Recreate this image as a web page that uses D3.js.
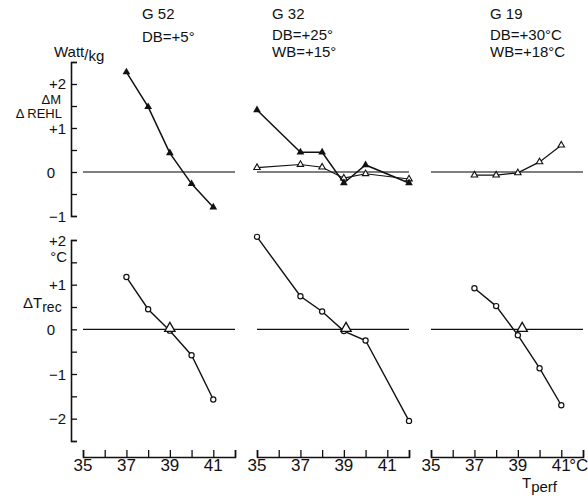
<!DOCTYPE html>
<html>
<head>
<meta charset="utf-8">
<script src="https://cdn.jsdelivr.net/npm/d3@7"></script>
<style>
  html, body { margin: 0; padding: 0; background: #fff; }
  svg text { font-family: "Liberation Sans", Arial, Helvetica, sans-serif; fill: #111; }
</style>
</head>
<body>
<svg id="chart" width="588" height="501"></svg>
<script>
// Panel headings: subject and test climate
const panelNames = ["G 52", "G 32", "G 19"];
const panelClimate = [["DB=+5°"], ["DB=+25°", "WB=+15°"], ["DB=+30°C", "WB=+18°C"]];

// Perfusion temperatures (°C) per panel
const tempsG52 = [37, 38, 39, 40, 41];
const tempsG32 = [35, 37, 38, 39, 40, 42];
const tempsG19 = [37, 38, 39, 40, 41];

// ΔM (filled triangles), W/kg
const dMG52 = [2.27, 1.48, 0.43, -0.27, -0.8];
const dMG32 = [1.41, 0.45, 0.45, -0.25, 0.16, -0.25];
// ΔREHL (open triangles), W/kg
const dRehlG32 = [0.1, 0.17, 0.11, -0.14, -0.04, -0.16];
const dRehlG19 = [-0.07, -0.07, -0.02, 0.23, 0.61];

// ΔTrec (open circles), °C
const dTrecG52 = [1.17, 0.45, -0.03, -0.58, -1.57];
const dTrecG32 = [2.07, 0.74, 0.4, -0.04, -0.25, -2.05];
const dTrecG19 = [0.92, 0.52, -0.13, -0.87, -1.7];

// Perfusion temperature where ΔTrec crosses zero
const zeroCrossing = [39.0, 39.1, 39.2];

// Axis ticks
const xTicks = [35, 36, 37, 38, 39, 40, 41, 42];
const xTickLabels = [35, 37, 39, 41];
const yTopTicks = [-1, -0.5, 0, 0.5, 1, 1.5, 2, 2.5];
const yTopLabels = [{v: 2, t: "+2"}, {v: 1, t: "+1"}, {v: 0, t: "0"}, {v: -1, t: "−1"}];
const yBotTicks = [-2.5, -2, -1.5, -1, -0.5, 0, 0.5, 1, 1.5, 2];
const yBotLabels = [{v: 2, t: "+2"}, {v: 1, t: "+1"}, {v: 0, t: "0"}, {v: -1, t: "−1"}, {v: -2, t: "−2"}];

const svg = d3.select("#chart");

const panelLeft = [83, 257, 431];
const panelWidth = 152;
const xScales = panelLeft.map(l => d3.scaleLinear().domain([35, 42]).range([l, l + panelWidth]));

const yTop = d3.scaleLinear().domain([-1, 2.5]).range([216, 62]);
const yBot = d3.scaleLinear().domain([-2.5, 2]).range([441, 240]);
const axisX = 71;
const xAxisY = 457;

// ---- y axes ----
function drawYAxis(scale, ticks) {
  const g = svg.append("g").attr("transform", `translate(${axisX},0)`)
    .call(d3.axisRight(scale).tickValues(ticks).tickSize(6).tickFormat(""));
  g.select(".domain").attr("stroke", "#111").attr("stroke-width", 1.6);
  g.selectAll(".tick line").attr("stroke", "#111").attr("stroke-width", 1.3);
}
drawYAxis(yTop, yTopTicks);
drawYAxis(yBot, yBotTicks);

svg.selectAll(".ytl-top").data(yTopLabels).join("text")
  .attr("x", d => d.v === 0 ? 55 : 66)
  .attr("y", d => yTop(d.v) + (d.v === 2 ? 5 : d.v === 1 ? 6 : 5.5))
  .attr("text-anchor", "end").attr("font-size", 15)
  .text(d => d.t);
svg.selectAll(".ytl-bot").data(yBotLabels).join("text")
  .attr("x", d => d.v === 0 ? 55 : 66)
  .attr("y", d => yBot(d.v) + 5.5)
  .attr("text-anchor", "end").attr("font-size", 15)
  .text(d => d.t);

// y axis titles
const watt = svg.append("text").attr("x", 54).attr("y", 57).attr("font-size", 15);
watt.append("tspan").text("Watt");
watt.append("tspan").attr("dy", 3).text("/");
watt.append("tspan").attr("dy", 1).text("kg");
svg.append("text").attr("x", 61).attr("y", 104).attr("text-anchor", "end").attr("font-size", 13).text("ΔM");
svg.append("text").attr("x", 62).attr("y", 117.5).attr("text-anchor", "end").attr("font-size", 13).text("Δ REHL");
svg.append("text").attr("x", 67).attr("y", 262).attr("text-anchor", "end").attr("font-size", 15).text("°C");
const trec = svg.append("text").attr("x", 23).attr("y", 308).attr("font-size", 15);
trec.append("tspan").text("ΔT");
trec.append("tspan").attr("dy", 4).attr("font-size", 14).text("rec");

// ---- x axes ----
xScales.forEach((xs, i) => {
  const g = svg.append("g").attr("transform", `translate(0,${xAxisY})`)
    .call(d3.axisBottom(xs).tickValues(xTicks).tickSize(-7).tickFormat(""));
  g.select(".domain").attr("stroke", "#111").attr("stroke-width", 1.6);
  g.selectAll(".tick line").attr("stroke", "#111").attr("stroke-width", 1.3);
  svg.selectAll(null).data(xTickLabels).join("text")
    .attr("x", d => xs(d)).attr("y", 471)
    .attr("text-anchor", "middle").attr("font-size", 17)
    .text(d => d);
});
svg.append("text").attr("x", xScales[2](41) + 8).attr("y", 471).attr("font-size", 17).text("°C");
const tperf = svg.append("text").attr("x", 522).attr("y", 488).attr("font-size", 15);
tperf.append("tspan").text("T");
tperf.append("tspan").attr("dy", 4).attr("font-size", 15).text("perf");

// ---- panel headings ----
const headX = [142, 272, 490];
panelNames.forEach((n, i) => {
  svg.append("text").attr("x", headX[i]).attr("y", 18.5).attr("font-size", 15).text(n);
  panelClimate[i].forEach((c, j) => {
    svg.append("text").attr("x", headX[i]).attr("y", (i === 0 ? 41.5 : 40) + j * 16.5)
      .attr("font-size", 15).text(c);
  });
});

// ---- zero lines ----
xScales.forEach(xs => {
  svg.append("line").attr("x1", xs(35)).attr("x2", xs(42))
    .attr("y1", yTop(0)).attr("y2", yTop(0))
    .attr("stroke", "#555").attr("stroke-width", 1.6);
  svg.append("line").attr("x1", xs(35)).attr("x2", xs(42))
    .attr("y1", yBot(0)).attr("y2", yBot(0))
    .attr("stroke", "#111").attr("stroke-width", 1.2);
});

// ---- series ----
const triFilled = d3.symbol(d3.symbolTriangle, 26);
const triOpen = d3.symbol(d3.symbolTriangle, 18);
const triBig = d3.symbol(d3.symbolTriangle, 46);

function drawSeries(xs, ys, temps, vals, marker, width) {
  const pts = temps.map((t, k) => [xs(t), ys(vals[k])]);
  svg.append("path").attr("d", d3.line()(pts))
    .attr("fill", "none").attr("stroke", "#111").attr("stroke-width", width);
  const g = svg.append("g");
  pts.forEach(p => {
    if (marker === "filled") {
      g.append("path").attr("d", triFilled()).attr("transform", `translate(${p[0]},${p[1]})`)
        .attr("fill", "#111");
    } else if (marker === "open") {
      g.append("path").attr("d", triOpen()).attr("transform", `translate(${p[0]},${p[1]})`)
        .attr("fill", "#fff").attr("stroke", "#111").attr("stroke-width", 1.1);
    } else {
      g.append("circle").attr("cx", p[0]).attr("cy", p[1]).attr("r", 2.6)
        .attr("fill", "#fff").attr("stroke", "#111").attr("stroke-width", 1.2);
    }
  });
}

drawSeries(xScales[0], yTop, tempsG52, dMG52, "filled", 1.5);
drawSeries(xScales[1], yTop, tempsG32, dRehlG32, "open", 1.1);
drawSeries(xScales[1], yTop, tempsG32, dMG32, "filled", 1.5);
drawSeries(xScales[2], yTop, tempsG19, dRehlG19, "open", 1.2);

drawSeries(xScales[0], yBot, tempsG52, dTrecG52, "circle", 1.4);
drawSeries(xScales[1], yBot, tempsG32, dTrecG32, "circle", 1.4);
drawSeries(xScales[2], yBot, tempsG19, dTrecG19, "circle", 1.4);

// zero-crossing markers on the ΔTrec panels
zeroCrossing.forEach((t, i) => {
  svg.append("path").attr("d", triBig())
    .attr("transform", `translate(${xScales[i](t)},${yBot(0) - 1})`)
    .attr("fill", "#fff").attr("stroke", "#111").attr("stroke-width", 1.3);
});
</script>
</body>
</html>
